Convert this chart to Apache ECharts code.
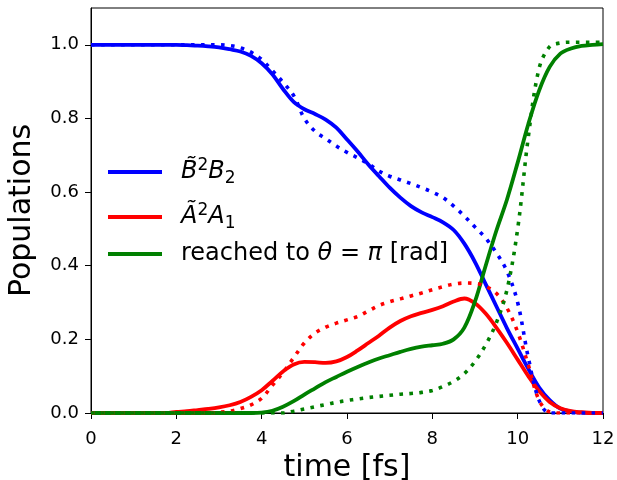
<!DOCTYPE html>
<html>
<head>
<meta charset="utf-8">
<script src="https://cdn.jsdelivr.net/npm/echarts@6/dist/echarts.min.js"></script>
<style>
  html, body { margin: 0; padding: 0; background: #fff; }
  #chart { width: 617px; height: 480px; }
</style>
</head>
<body>
<div id="chart"></div>
<script>
// time grid [fs]
const time = [0, 0.25, 0.5, 0.75, 1, 1.25, 1.5, 1.75, 2, 2.25, 2.5, 2.75, 3, 3.25, 3.5, 3.75,
  4, 4.25, 4.5, 4.75, 5, 5.25, 5.5, 5.75, 6, 6.25, 6.5, 6.75, 7, 7.25, 7.5, 7.75,
  8, 8.25, 8.5, 8.75, 9, 9.25, 9.5, 9.75, 10, 10.25, 10.5, 10.75, 11, 11.25, 11.5, 11.75, 12]

// solid lines
const bSolid = [1, 1, 1, 1, 1, 1, 1, 1, 1.0, 0.999, 0.998, 0.996, 0.993, 0.988, 0.982, 0.97,
  0.95, 0.92, 0.88, 0.845, 0.825, 0.812, 0.797, 0.775, 0.743, 0.71, 0.675, 0.643, 0.612, 0.585, 0.562, 0.545,
  0.532, 0.518, 0.497, 0.46, 0.41, 0.35, 0.29, 0.23, 0.175, 0.12, 0.07, 0.035, 0.012, 0.004, 0.001, 0, 0]
const aSolid = [0, 0, 0, 0, 0, 0, 0, 0, 0.003, 0.005, 0.008, 0.011, 0.015, 0.021, 0.03, 0.044,
  0.062, 0.087, 0.113, 0.132, 0.139, 0.138, 0.136, 0.14, 0.152, 0.17, 0.19, 0.21, 0.232, 0.25, 0.263, 0.272,
  0.28, 0.29, 0.303, 0.311, 0.298, 0.27, 0.232, 0.19, 0.145, 0.1, 0.06, 0.03, 0.013, 0.005, 0.002, 0, 0]
const gSolid = [0, 0, 0, 0, 0, 0, 0, 0, 0, 0, 0, 0, 0, 0, 0, 0,
  0.001, 0.006, 0.017, 0.032, 0.05, 0.067, 0.084, 0.098, 0.112, 0.125, 0.137, 0.148, 0.157, 0.166, 0.174, 0.18,
  0.184, 0.188, 0.2, 0.232, 0.303, 0.4, 0.495, 0.58, 0.68, 0.785, 0.875, 0.94, 0.976, 0.99, 0.997, 1.0, 1.002]

// dotted lines
const bDot = [1, 1, 1, 1, 1, 1, 1, 1, 1, 1, 1, 1, 1, 0.998, 0.992, 0.98,
  0.96, 0.93, 0.898, 0.862, 0.80, 0.765, 0.745, 0.725, 0.708, 0.693, 0.677, 0.657, 0.643, 0.633, 0.623, 0.612,
  0.600, 0.585, 0.562, 0.535, 0.505, 0.475, 0.435, 0.385, 0.30, 0.15, 0.035, 0, 0, 0, 0, 0, 0]
const aDot = [0, 0, 0, 0, 0, 0, 0, 0, 0, 0, 0, 0, 0.002, 0.005, 0.012, 0.022,
  0.04, 0.075, 0.11, 0.15, 0.19, 0.217, 0.233, 0.244, 0.253, 0.262, 0.277, 0.292, 0.302, 0.31, 0.318, 0.326,
  0.335, 0.343, 0.35, 0.353, 0.352, 0.344, 0.325, 0.285, 0.22, 0.13, 0.035, 0.003, 0, 0, 0, 0, 0]
const gDot = [0, 0, 0, 0, 0, 0, 0, 0, 0, 0, 0, 0, 0, 0, 0, 0,
  0, 0, 0, 0.005, 0.011, 0.017, 0.023, 0.029, 0.034, 0.038, 0.042, 0.045, 0.048, 0.051, 0.053, 0.056,
  0.061, 0.072, 0.086, 0.107, 0.14, 0.185, 0.245, 0.335, 0.5, 0.75, 0.935, 0.995, 1.005, 1.007, 1.007, 1.007, 1.007]

const yTicks = [0, 0.2, 0.4, 0.6, 0.8, 1.0]
const legendNames = ['B2B2', 'A2A1', 'theta']
const legendLabels = {
  B2B2: '{i|B\u0303}{sup|2}{i|B}{sub|2}',
  A2A1: '{i|A\u0303}{sup|2}{i|A}{sub|1}',
  theta: '{n|reached to }{i|\u03b8}{n| = }{i|\u03c0}{n| [rad]}'
}

const font = 'DejaVu Sans'
const pairs = ys => time.map((t, k) => [t, ys[k]])

function line(name, ys, color, dotted) {
  return {
    name: name,
    type: 'line',
    data: pairs(ys),
    smooth: 0.35,
    showSymbol: false,
    symbol: 'none',
    lineStyle: {
      color: color,
      width: dotted ? 3.6 : 3.8,
      type: dotted ? [3.6, 6.4] : 'solid',
      cap: 'butt'
    },
    itemStyle: {color: color}
  }
}

const rich = {
  n: {fontFamily: font, fontSize: 24, color: '#000', lineHeight: 30},
  i: {fontFamily: font, fontSize: 24, color: '#000', lineHeight: 30, fontStyle: 'italic'},
  sup: {fontFamily: font, fontSize: 17, color: '#000', lineHeight: 22, verticalAlign: 'top'},
  sub: {fontFamily: font, fontSize: 17, color: '#000', lineHeight: 19, verticalAlign: 'bottom'}
}
function legendAt(name, top) {
  return {
    data: [name],
    left: 108,
    top: top,
    icon: 'rect',
    itemWidth: 54,
    itemHeight: 4,
    padding: 0,
    selectedMode: false,
    formatter: n => legendLabels[n],
    textStyle: {rich: rich, padding: [0, 0, 0, 14]}
  }
}

const chart = echarts.init(document.getElementById('chart'))
chart.setOption({
  animation: false,
  backgroundColor: '#fff',
  grid: {
    left: 91, right: 14, top: 8, bottom: 67,
    outerBoundsMode: 'none', containLabel: false,
    show: true, borderColor: '#000', borderWidth: 1
  },
  legend: [
    legendAt(legendNames[0], 157),
    legendAt(legendNames[1], 202),
    legendAt(legendNames[2], 242)
  ],
  xAxis: {
    type: 'value',
    min: 0, max: 12, interval: 2,
    name: 'time [fs]',
    nameLocation: 'middle',
    nameGap: 39,
    nameTextStyle: {fontFamily: font, fontSize: 30, color: '#000'},
    axisLine: {show: true, lineStyle: {color: '#000', width: 1}},
    axisTick: {show: true, inside: false, length: 6, lineStyle: {color: '#000'}},
    axisLabel: {fontFamily: font, fontSize: 18, color: '#000', margin: 17},
    splitLine: {show: false}
  },
  yAxis: {
    type: 'value',
    min: 0, max: 1.1,
    name: 'Populations',
    nameLocation: 'middle',
    nameGap: 54,
    nameTextStyle: {fontFamily: font, fontSize: 30, color: '#000'},
    axisLine: {show: true, lineStyle: {color: '#000', width: 1}},
    axisTick: {show: true, inside: false, length: 6, lineStyle: {color: '#000'}, customValues: yTicks},
    axisLabel: {
      fontFamily: font, fontSize: 18, color: '#000', margin: 12,
      customValues: yTicks,
      formatter: v => v.toFixed(1)
    },
    splitLine: {show: false}
  },
  series: [
    line('B2B2', bSolid, '#0000ff', false),
    line('A2A1', aSolid, '#ff0000', false),
    line('theta', gSolid, '#008000', false),
    line('B2B2 dotted', bDot, '#0000ff', true),
    line('A2A1 dotted', aDot, '#ff0000', true),
    line('theta dotted', gDot, '#008000', true)
  ]
})
</script>
</body>
</html>
